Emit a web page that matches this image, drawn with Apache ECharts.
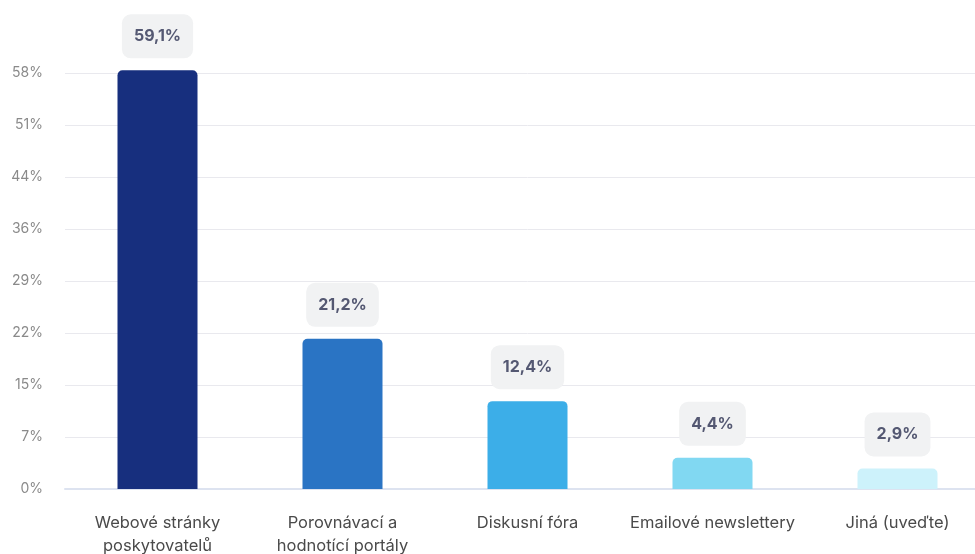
<!DOCTYPE html>
<html lang="cs">
<head>
    <meta charset="UTF-8">
    <title>Graf</title>
    <style>
        html, body { margin: 0; padding: 0; background: #fff; overflow: hidden; }
        #main { width: 990px; height: 554px; }
    </style>
</head>
<body>
    <div id="main"></div>
    <script src="https://cdn.jsdelivr.net/npm/echarts@6/dist/echarts.min.js"></script>
    <script>
        const categories = ['Webové stránky\nposkytovatelů', 'Porovnávací a\nhodnotící portály', 'Diskusní fóra', 'Emailové newslettery', 'Jiná (uveďte)'];
        const values = [59.1, 21.2, 12.4, 4.4, 2.9];
        const barColors = ['#172f7e', '#2a74c4', '#3caee8', '#81d8f2', '#cdf2fb'];
        const yTickLabels = ['0%', '7%', '15%', '22%', '29%', '36%', '44%', '51%', '58%'];
        const yStep = 7.34;

        var myChart = echarts.init(document.getElementById('main'));
        var option = {
            animation: false,
            textStyle: { fontFamily: 'Inter' },
            // the plot runs a bit past the right edge of the window, like in the original
            grid: { left: 65, right: 0, top: 73, bottom: 65, outerBoundsMode: 'none' },
            xAxis: {
                type: 'category',
                data: categories,
                axisTick: { show: false },
                axisLine: { lineStyle: { color: '#dde3f0', width: 2 } },
                axisLabel: {
                    color: '#4a4a4a',
                    fontSize: 16.5,
                    lineHeight: 22.5,
                    margin: 23,
                    interval: 0
                }
            },
            yAxis: {
                type: 'value',
                min: 0,
                max: yStep * 8,
                interval: yStep,
                axisLine: { show: false },
                axisTick: { show: false },
                splitLine: { lineStyle: { color: '#e9e9ee', width: 1 } },
                axisLabel: {
                    color: '#8a8a8a',
                    fontSize: 14,
                    margin: 22,
                    formatter: v => yTickLabels[Math.round(v / yStep)]
                }
            },
            series: [{
                type: 'bar',
                clip: false,
                barWidth: 80,
                data: values.map((v, i) => ({ value: v, itemStyle: { color: barColors[i] } })),
                itemStyle: { borderRadius: [5, 5, 0, 0] },
                label: {
                    show: true,
                    position: 'top',
                    distance: 12,
                    formatter: p => String(p.value).replace('.', ',') + '%',
                    color: '#545872',
                    fontWeight: 'bold',
                    fontSize: 16,
                    backgroundColor: '#f1f2f3',
                    borderRadius: 9,
                    padding: [14, 12]
                }
            }]
        };
        myChart.setOption(option);
    </script>
</body>
</html>
